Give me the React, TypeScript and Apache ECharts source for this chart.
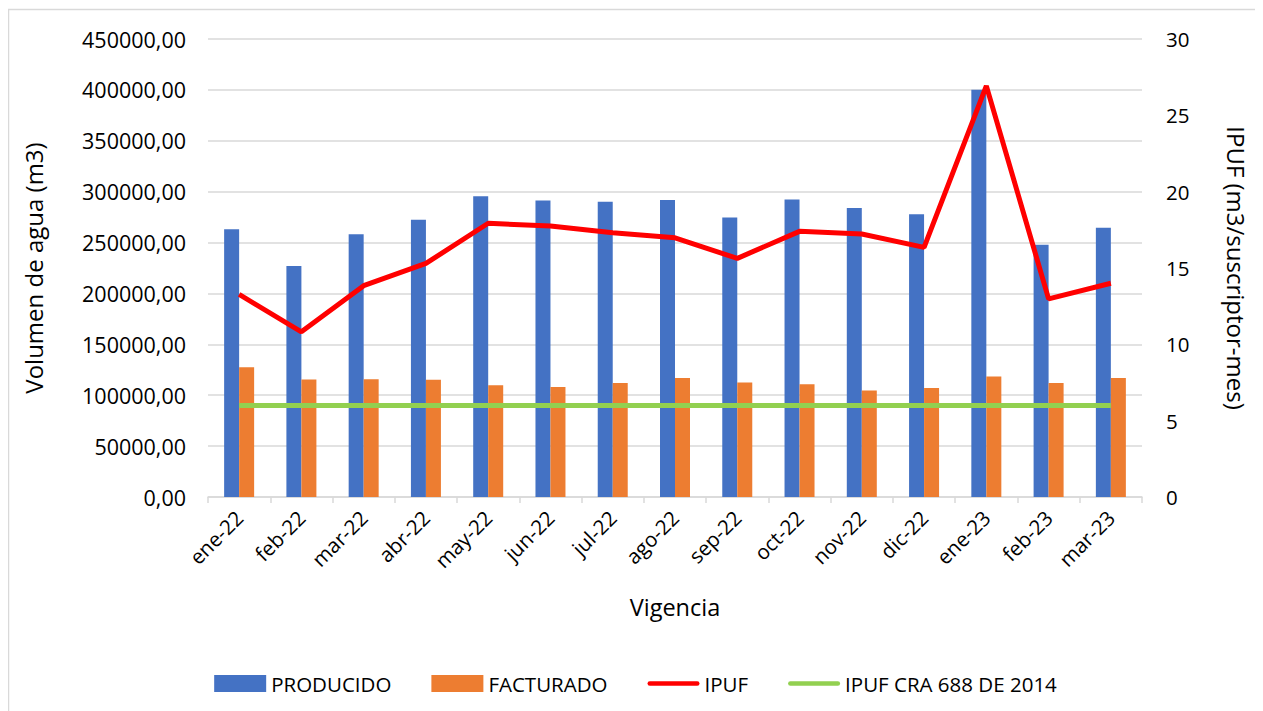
import React, { useEffect, useRef } from "react";
import * as echarts from "echarts";

const categories = ["ene-22", "feb-22", "mar-22", "abr-22", "may-22", "jun-22", "jul-22", "ago-22", "sep-22", "oct-22", "nov-22", "dic-22", "ene-23", "feb-23", "mar-23"];
const producido = [263000, 227000, 258200, 272500, 295500, 291200, 290000, 291900, 274500, 292200, 284000, 277800, 400100, 247900, 264600];
const facturado = [127600, 115500, 115800, 115300, 109900, 108200, 111900, 116800, 112500, 110900, 104700, 107200, 118400, 111900, 116800];
const ipuf = [13.27, 10.82, 13.84, 15.3, 17.93, 17.75, 17.31, 16.98, 15.63, 17.4, 17.23, 16.35, 26.93, 12.98, 14.0];
const ipufCra = [6, 6, 6, 6, 6, 6, 6, 6, 6, 6, 6, 6, 6, 6, 6];

const FONT = "'Open Sans', 'Noto Sans', sans-serif";

export default function App() {
  const ref = useRef<HTMLDivElement>(null);
  useEffect(() => {
    if (!ref.current) return;
    const chart = echarts.init(ref.current, null, { renderer: "svg" });
    chart.setOption({
      animation: false,
      backgroundColor: "#ffffff",
      textStyle: { fontFamily: FONT },
      graphic: [
        {
          type: "rect",
          shape: { x: 0.5, y: 1.5, width: 1253, height: 720 },
          style: { fill: "none", stroke: "#d9d9d9", lineWidth: 1.5 },
          silent: true,
        },
      ],
      grid: { left: 200, right: 121, top: 31, bottom: 214, containLabel: false },
      legend: {
        left: "center",
        top: 660,
        itemWidth: 52,
        itemHeight: 17,
        itemGap: 40,
        textStyle: { fontSize: 20.5, color: "#000", fontFamily: FONT },
        data: [
          { name: "PRODUCIDO", icon: "rect" },
          { name: "FACTURADO", icon: "rect" },
          { name: "IPUF", icon: "path://M2,0 H54 A2,2 0 0 1 54,5 H2 A2,2 0 0 1 2,0 Z" },
          { name: "IPUF CRA 688 DE 2014", icon: "path://M2,0 H54 A2,2 0 0 1 54,5 H2 A2,2 0 0 1 2,0 Z" },
        ],
      },
      xAxis: {
        type: "category",
        data: categories,
        name: "Vigencia",
        nameLocation: "middle",
        nameGap: 98,
        nameTextStyle: { fontSize: 23.5, color: "#000" },
        axisLine: { lineStyle: { color: "#d9d9d9", width: 1.5 } },
        axisTick: { show: true, length: 6, lineStyle: { color: "#d9d9d9", width: 1.5 } },
        axisLabel: { rotate: 45, fontSize: 20.5, color: "#000", margin: 17 },
      },
      yAxis: [
        {
          type: "value",
          min: 0,
          max: 450000,
          interval: 50000,
          name: "Volumen de agua (m3)",
          nameLocation: "middle",
          nameRotate: 90,
          nameGap: 163,
          nameTextStyle: { fontSize: 24, color: "#000" },
          axisLine: { show: false },
          axisTick: { show: false },
          axisLabel: {
            fontSize: 21.5,
            color: "#000",
            margin: 22,
            formatter: (v: number) => v.toFixed(2).replace(".", ","),
          },
          splitLine: { lineStyle: { color: "#d9d9d9", width: 1.5 } },
        },
        {
          type: "value",
          min: 0,
          max: 30,
          interval: 5,
          name: "IPUF (m3/suscriptor-mes)",
          nameLocation: "middle",
          nameRotate: -90,
          nameGap: 82,
          nameTextStyle: { fontSize: 24, color: "#000" },
          axisLine: { show: false },
          axisTick: { show: false },
          axisLabel: { fontSize: 20.5, color: "#000", margin: 24 },
          splitLine: { show: false },
        },
      ],
      series: [
        {
          name: "PRODUCIDO",
          type: "bar",
          data: producido,
          barWidth: 15,
          barGap: "0%",
          itemStyle: { color: "#4472c4" },
        },
        {
          name: "FACTURADO",
          type: "bar",
          data: facturado,
          barWidth: 15,
          barGap: "0%",
          itemStyle: { color: "#ed7d31" },
        },
        {
          name: "IPUF",
          type: "line",
          yAxisIndex: 1,
          data: ipuf,
          symbol: "none",
          lineStyle: { color: "#ff0000", width: 5 },
          itemStyle: { color: "#ff0000" },
        },
        {
          name: "IPUF CRA 688 DE 2014",
          type: "line",
          yAxisIndex: 1,
          data: ipufCra,
          symbol: "none",
          lineStyle: { color: "#92d050", width: 5 },
          itemStyle: { color: "#92d050" },
        },
      ],
    });
    return () => chart.dispose();
  }, []);
  return <div ref={ref} style={{ width: 1255, height: 703 }} />;
}
